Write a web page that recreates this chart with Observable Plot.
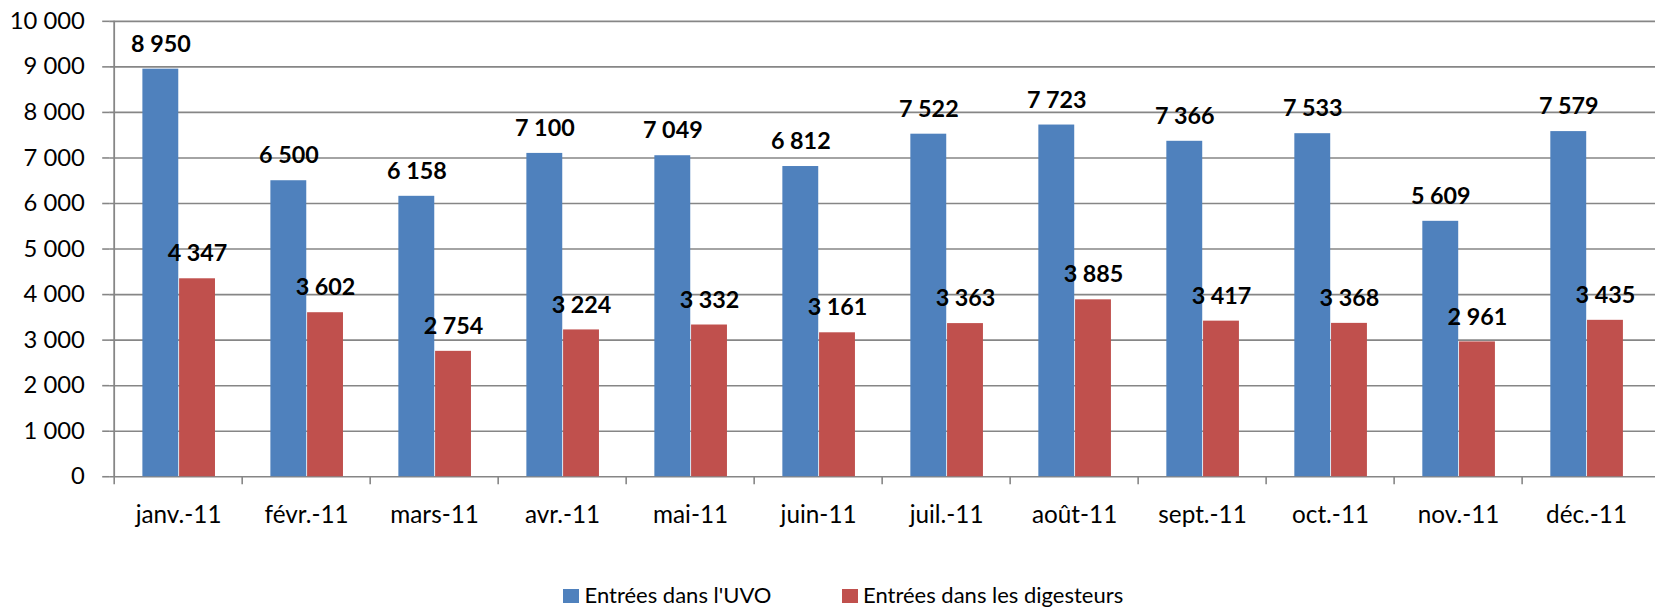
<!DOCTYPE html>
<html>
<head>
<meta charset="utf-8">
<script src="https://cdn.jsdelivr.net/npm/d3@7"></script>
<script src="https://cdn.jsdelivr.net/npm/@observablehq/plot@0.6"></script>
<style>
  html, body { margin: 0; padding: 0; background: #fff; width: 1655px; height: 607px; overflow: hidden; }
  #wrap { position: relative; width: 1655px; height: 607px; overflow: hidden; }
  .lg { position: absolute; font-family: Lato, sans-serif; font-size: 22px; line-height: 22px; color: #000; white-space: nowrap; }
  .sw { position: absolute; width: 16px; height: 14px; }
</style>
</head>
<body>
<div id="wrap">
  <div id="chart"></div>
  <div id="legend"></div>
</div>
<script>
const months = ["janv.-11","févr.-11","mars-11","avr.-11","mai-11","juin-11","juil.-11","août-11","sept.-11","oct.-11","nov.-11","déc.-11"];
const uvo = [8950, 6500, 6158, 7100, 7049, 6812, 7522, 7723, 7366, 7533, 5609, 7579];
const digesteurs = [4347, 3602, 2754, 3224, 3332, 3161, 3363, 3885, 3417, 3368, 2961, 3435];
const seriesNames = ["Entrées dans l'UVO", "Entrées dans les digesteurs"];
const seriesColors = ["#4F81BD", "#C0504D"];
const yTicks = [0, 1000, 2000, 3000, 4000, 5000, 6000, 7000, 8000, 9000, 10000];

const W = 1668, H = 545, mL = 110, mR = 0, mT = 21, mB = 65;
const bw = (W - mL - mR) / months.length;
const fmt = d => d3.format(",")(d).replace(/,/g, " ");
const gray = "#868686";

const rowsU = months.map((m, i) => ({month: m, value: uvo[i]}));
const rowsD = months.map((m, i) => ({month: m, value: digesteurs[i]}));

const blueL = 28.5, blueR = 65.5, redL = 65.5, redR = 102.5;
const blueDx = (blueL + blueR) / 2 - bw / 2;
const redDx = (redL + redR) / 2 - bw / 2;

const chart = Plot.plot({
  width: W, height: H,
  marginLeft: mL, marginRight: mR, marginTop: mT, marginBottom: mB,
  style: {fontFamily: "Lato, sans-serif", color: "#000", background: "#fff", overflow: "visible"},
  x: {type: "band", domain: months, padding: 0, label: null},
  y: {domain: [0, 10000], label: null},
  marks: [
    Plot.ruleY(yTicks, {stroke: gray, strokeWidth: 1.6}),
    Plot.barY(rowsU, {x: "month", y: "value", fill: seriesColors[0], insetLeft: blueL, insetRight: bw - blueR}),
    Plot.barY(rowsD, {x: "month", y: "value", fill: seriesColors[1], insetLeft: redL, insetRight: bw - redR}),
    Plot.ruleX([months[0]], {dx: -bw / 2, y1: 0, y2: 10000, stroke: gray, strokeWidth: 1.8}),
    Plot.ruleX(months, {dx: -bw / 2, y1: 0, y2: -175, stroke: gray, strokeWidth: 1.6}),
    Plot.axisY({ticks: yTicks, tickSize: 7, tickPadding: 18, tickFormat: fmt, fontSize: 24, stroke: gray, strokeWidth: 1.6, fill: "#000", label: null}),
    Plot.axisX({tickSize: 0, tickPadding: 29.5, fontSize: 24.5, fill: "#000", label: null}),
    Plot.text(rowsU, {x: "month", y: "value", text: d => fmt(d.value), dx: blueDx, dy: -25, lineAnchor: "middle", fontSize: 23.5, fontWeight: "bold", fill: "#000"}),
    Plot.text(rowsD, {x: "month", y: "value", text: d => fmt(d.value), dx: redDx, dy: -25, lineAnchor: "middle", fontSize: 23.5, fontWeight: "bold", fill: "#000"})
  ]
});
document.getElementById("chart").appendChild(chart);

const legend = document.getElementById("legend");
const swLeft = [563, 842], txtLeft = [584.5, 863];
seriesNames.forEach((name, i) => {
  const sw = document.createElement("div");
  sw.className = "sw";
  sw.style.left = swLeft[i] + "px";
  sw.style.top = "589px";
  sw.style.background = seriesColors[i];
  const t = document.createElement("div");
  t.className = "lg";
  t.style.left = txtLeft[i] + "px";
  t.style.top = "583.5px";
  t.textContent = name;
  legend.appendChild(sw);
  legend.appendChild(t);
});
</script>
</body>
</html>
